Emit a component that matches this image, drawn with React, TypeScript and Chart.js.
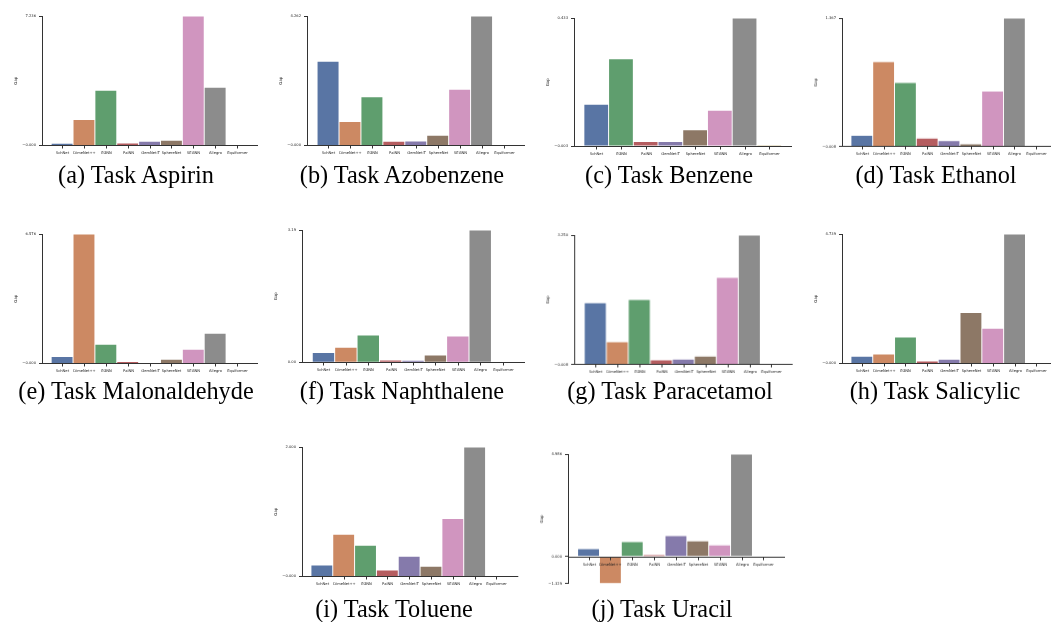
import React, { useEffect, useRef } from "react";
import { Chart, registerables } from "chart.js";

Chart.register(...registerables);

// ---------- data ----------
const models = ["SchNet", "DimeNet++", "EGNN", "PaiNN", "GemNet-T", "SphereNet", "SEGNN", "Allegro", "Equiformer"];
const benzeneModels = ["SchNet", "EGNN", "PaiNN", "GemNet-T", "SphereNet", "SEGNN", "Allegro", "Equiformer"];

const aspirinGap = [0.11, 1.44, 3.08, 0.13, 0.22, 0.28, 7.236, 3.25, -0.0001];
const azobenzeneGap = [2.768, 0.78, 1.6, 0.13, 0.14, 0.33, 1.85, 4.262, -0.0001];
const benzeneGap = [0.14, 0.295, 0.0136, 0.0136, 0.054, 0.12, 0.433, -0.003];
const ethanolGap = [0.111, 0.9, 0.678, 0.083, 0.057, 0.022, 0.585, 1.367, -0.008];
const malonaldehydeGap = [0.34, 6.576, 0.966, 0.085, 0.004, 0.2, 0.71, 1.525, -0.0001];
const naphthaleneGap = [0.233, 0.362, 0.659, 0.056, 0.048, 0.177, 0.635, 3.19, 0.0];
const paracetamolGap = [1.545, 0.566, 1.629, 0.11, 0.127, 0.203, 2.186, 3.25, -0.008];
const salicylicGap = [0.256, 0.342, 0.965, 0.085, 0.147, 1.857, 1.282, 4.739, -0.0001];
const tolueneGap = [0.175, 0.65, 0.479, 0.098, 0.309, 0.155, 0.892, 2.0, -0.0001];
const uracilGap = [0.376, -1.329, 0.72, 0.065, 1.014, 0.752, 0.556, 4.986, 0.0];

const captions = [
  "(a) Task Aspirin",
  "(b) Task Azobenzene",
  "(c) Task Benzene",
  "(d) Task Ethanol",
  "(e) Task Malonaldehyde",
  "(f) Task Naphthalene",
  "(g) Task Paracetamol",
  "(h) Task Salicylic",
  "(i) Task Toluene",
  "(j) Task Uracil",
];

// ---------- styles ----------
const modelColors: Record<string, string> = {
  SchNet: "#5975a4",
  "DimeNet++": "#cc8963",
  EGNN: "#5f9e6e",
  PaiNN: "#b55d60",
  "GemNet-T": "#857aab",
  SphereNet: "#8d7866",
  SEGNN: "#d095bf",
  Allegro: "#8c8c8c",
  Equiformer: "#c1b37f",
};

const AXIS_COLOR = "#333";
const TEXT_COLOR = "#222";
const TICK_FONT = 3.7;
const Y_W = 33;
const PAD_T = 8;
const PAD_R = 2;
const PAD_B = 22;

type PanelCfg = {
  labels: string[];
  values: number[];
  dec: number;
  L: number;
  R: number;
  T: number;
  Z: number;
  mL: number;
  mR: number;
  caption: string;
  cx: number;
  cy: number;
};

const panels: PanelCfg[] = [
  { labels: models, values: aspirinGap, dec: 3, L: 42, R: 258, T: 15.7, Z: 145, mL: 0.42, mR: 0.46, caption: captions[0], cx: 136, cy: 177.5 },
  { labels: models, values: azobenzeneGap, dec: 3, L: 307, R: 525, T: 15.7, Z: 145, mL: 0.46, mR: 0.48, caption: captions[1], cx: 402, cy: 177.5 },
  { labels: benzeneModels, values: benzeneGap, dec: 3, L: 574, R: 792, T: 17.7, Z: 145.3, mL: 0.4, mR: 0.42, caption: captions[2], cx: 669, cy: 177.5 },
  { labels: models, values: ethanolGap, dec: 3, L: 842, R: 1051, T: 18.3, Z: 145.3, mL: 0.41, mR: 0.18, caption: captions[3], cx: 936, cy: 177.5 },
  { labels: models, values: malonaldehydeGap, dec: 3, L: 42, R: 258, T: 234, Z: 363.3, mL: 0.42, mR: 0.46, caption: captions[4], cx: 136, cy: 393 },
  { labels: models, values: naphthaleneGap, dec: 2, L: 302, R: 525, T: 230, Z: 362.3, mL: 0.46, mR: 0.5, caption: captions[5], cx: 402, cy: 393 },
  { labels: models, values: paracetamolGap, dec: 3, L: 574, R: 791.7, T: 235, Z: 363.3, mL: 0.46, mR: 0.47, caption: captions[6], cx: 670, cy: 393 },
  { labels: models, values: salicylicGap, dec: 3, L: 842, R: 1051, T: 234, Z: 363.3, mL: 0.41, mR: 0.17, caption: captions[7], cx: 935, cy: 393 },
  { labels: models, values: tolueneGap, dec: 3, L: 302, R: 518.3, T: 446.7, Z: 576, mL: 0.41, mR: 0.5, caption: captions[8], cx: 394, cy: 611 },
  { labels: models, values: uracilGap, dec: 3, L: 568, R: 785, T: 454, Z: 555.7, mL: 0.44, mR: 0.49, caption: captions[9], cx: 662, cy: 611 },
];

function fmt(v: number, dec: number): string {
  return v.toFixed(dec).replace("-", "\u2212");
}

function Panel({ cfg }: { cfg: PanelCfg }) {
  const ref = useRef<HTMLCanvasElement>(null);
  const vmax = Math.max(...cfg.values);
  const vmin = Math.min(...cfg.values);
  const B = vmin < 0 ? cfg.Z + ((cfg.Z - cfg.T) * -vmin) / vmax : cfg.Z;
  const left = cfg.L - Y_W;
  const top = cfg.T - PAD_T;
  const width = cfg.R - cfg.L + Y_W + PAD_R;
  const height = B - cfg.T + PAD_T + PAD_B;

  useEffect(() => {
    if (!ref.current) return;
    const n = cfg.labels.length;
    const tickVals = vmin < -0.5 ? [vmin, 0, vmax] : [vmin, vmax];
    const zeroAxis = {
      id: "zeroAxis",
      afterDatasetsDraw(chart: any) {
        const { ctx, chartArea, scales } = chart;
        const xs = scales.x;
        const ys = scales.y;
        const y0 = Math.round(ys.getPixelForValue(0)) + 0.5;
        ctx.save();
        ctx.strokeStyle = AXIS_COLOR;
        ctx.lineWidth = 1;
        ctx.beginPath();
        ctx.moveTo(chartArea.left, y0);
        ctx.lineTo(chartArea.right, y0);
        ctx.stroke();
        ctx.font = `${TICK_FONT}px "DejaVu Sans"`;
        ctx.fillStyle = TEXT_COLOR;
        ctx.textAlign = "center";
        ctx.textBaseline = "middle";
        cfg.labels.forEach((lab, i) => {
          const x = Math.round(xs.getPixelForValue(i)) + 0.5;
          ctx.beginPath();
          ctx.moveTo(x, y0);
          ctx.lineTo(x, y0 + 3);
          ctx.stroke();
          ctx.fillText(lab, x, y0 + 7.5);
        });
        ctx.restore();
      },
    };
    const chart = new Chart(ref.current, {
      type: "bar",
      data: {
        datasets: [
          {
            data: cfg.values.map((v, i) => ({ x: i, y: v })),
            backgroundColor: cfg.labels.map((l) => modelColors[l]),
            borderColor: "rgba(255,255,255,0.5)",
            borderWidth: 0.8,
            categoryPercentage: 1,
            barPercentage: 1,
          } as any,
        ],
      },
      options: {
        animation: false,
        responsive: true,
        maintainAspectRatio: false,
        layout: { padding: { left: 0, top: PAD_T, right: PAD_R, bottom: PAD_B } },
        plugins: { legend: { display: false }, tooltip: { enabled: false } },
        scales: {
          x: {
            type: "linear",
            display: false,
            offset: false,
            grid: { offset: false },
            min: -0.5 - cfg.mL,
            max: n - 0.5 + cfg.mR,
          },
          y: {
            type: "linear",
            min: vmin,
            max: vmax,
            afterFit: (s: any) => {
              s.width = Y_W;
            },
            afterBuildTicks: (s: any) => {
              s.ticks = tickVals.map((v) => ({ value: v }));
            },
            ticks: {
              autoSkip: false,
              padding: 3,
              color: TEXT_COLOR,
              font: { family: "DejaVu Sans", size: TICK_FONT },
              callback: (v: any) => fmt(Number(v), cfg.dec),
            },
            grid: { drawOnChartArea: false, drawTicks: true, tickLength: 3, color: AXIS_COLOR },
            border: { display: true, color: AXIS_COLOR, width: 1 },
            title: {
              display: true,
              text: "Gap",
              color: TEXT_COLOR,
              font: { family: "DejaVu Sans", size: 4 },
              padding: { top: 5, bottom: 0 },
            },
          },
        },
      } as any,
      plugins: [zeroAxis],
    });
    return () => chart.destroy();
  }, []);

  return (
    <>
      <div style={{ position: "absolute", left, top, width, height }}>
        <canvas ref={ref} />
      </div>
      <div
        style={{
          position: "absolute",
          left: cfg.cx - 200,
          width: 400,
          top: cfg.cy - 14.3,
          textAlign: "center",
          fontFamily: '"Liberation Serif", "Times New Roman", serif',
          fontSize: 24.3,
          lineHeight: 1,
          whiteSpace: "nowrap",
          color: "#000",
        }}
      >
        {cfg.caption}
      </div>
    </>
  );
}

export default function App() {
  return (
    <div
      style={{
        position: "absolute",
        left: 0,
        top: 0,
        width: 1052,
        height: 622,
        background: "#fff",
        overflow: "hidden",
      }}
    >
      {panels.map((p, i) => (
        <Panel key={i} cfg={p} />
      ))}
    </div>
  );
}
